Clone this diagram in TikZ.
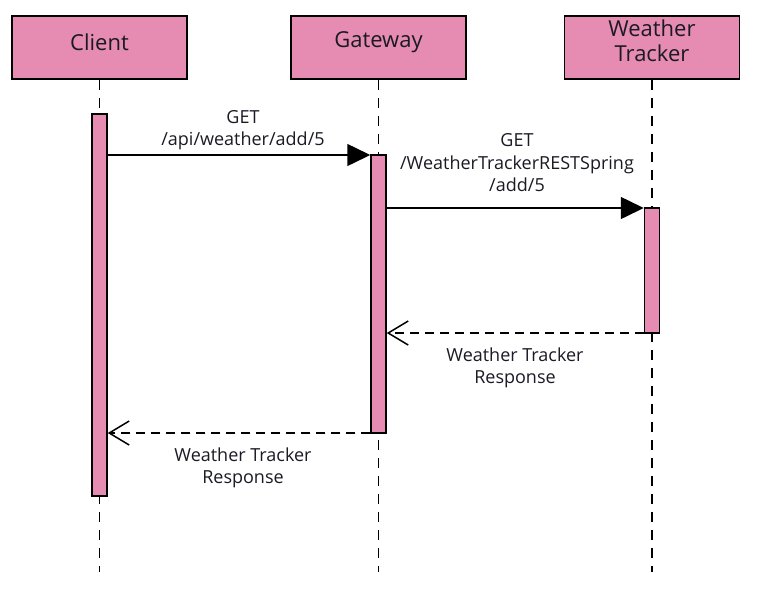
\documentclass[tikz,border=0pt]{standalone}
\usepackage{fontspec}
\setmainfont{Open Sans}
\usetikzlibrary{arrows.meta}
\definecolor{boxpink}{HTML}{E68BB2}
\definecolor{txt}{HTML}{1A1A24}
\begin{document}
\begin{tikzpicture}[x=1pt,y=-1pt,
  actor/.style={draw=black,line width=1.5pt,fill=boxpink,minimum width=175pt,minimum height=63pt,inner sep=0pt},
  actortext/.style={font=\fontsize{22}{25}\selectfont,text=txt,align=center,inner sep=0pt},
  actbar/.style={draw=black,line width=1.5pt,fill=boxpink,minimum width=15pt,inner sep=0pt},
  lifeline/.style={line width=1.5pt,dash pattern=on 10pt off 8pt},
  msg/.style={line width=1.5pt,-{Triangle[length=23pt,width=22pt]}},
  reply/.style={line width=1.5pt,dash pattern=on 9pt off 6pt,-{Straight Barb[length=20pt,width=24pt,line width=1.5pt]}},
  lbl/.style={font=\fontsize{18}{22.5}\selectfont,text=txt,align=center,inner sep=0pt}]
\useasboundingbox (0,0) rectangle (759,603);
% actors
\node[actor] (client) at (99.5,47.5) {};
\node[actor] (gateway) at (378.5,47.5) {};
\node[actor] (tracker) at (652,47.5) {};
\node[actortext] (clientT) at (99.5,42) {Client};
\node[actortext] (gatewayT) at (378.5,42) {Gateway};
\node[actortext] (trackerT) at (652,41) {Weather\\Tracker};
% lifeline ends
\coordinate (cEnd) at (99.5,572);
\coordinate (gEnd) at (378.5,572);
\coordinate (tEnd) at (652,572);
\draw[lifeline] (client.south) -- (cEnd);
\draw[lifeline] (gateway.south) -- (gEnd);
\draw[lifeline] (tracker.south) -- (tEnd);
% activation bars
\node[actbar,minimum height=382pt] (cbar) at (99.5,305) {};
\node[actbar,minimum height=278pt] (gbar) at (378.5,294) {};
\node[actbar,minimum height=125pt] (tbar) at (652,270.5) {};
% messages
\coordinate (m1s) at (cbar.east |- 0,155);
\coordinate (m1e) at (gbar.west |- 0,155);
\draw[msg] (m1s) -- (m1e);
\coordinate (m2s) at (gbar.east |- 0,208);
\coordinate (m2e) at (tbar.west |- 0,208);
\draw[msg] (m2s) -- (m2e);
\coordinate (r1s) at (tbar.west |- 0,333);
\coordinate (r1e) at (gbar.east |- 0,333);
\draw[reply] (r1s) -- (r1e);
\coordinate (r2s) at (gbar.west |- 0,433);
\coordinate (r2e) at (cbar.east |- 0,433);
\draw[reply] (r2s) -- (r2e);
% labels
\node[lbl] (l1) at (243,130) {GET\\/api/weather/add/5};
\node[lbl] (l2) at (517,163) {GET\\/WeatherTrackerRESTSpring\\/add/5};
\node[lbl] (l3) at (515,368) {Weather Tracker\\Response};
\node[lbl] (l4) at (243,468) {Weather Tracker\\Response};
\end{tikzpicture}
\end{document}
